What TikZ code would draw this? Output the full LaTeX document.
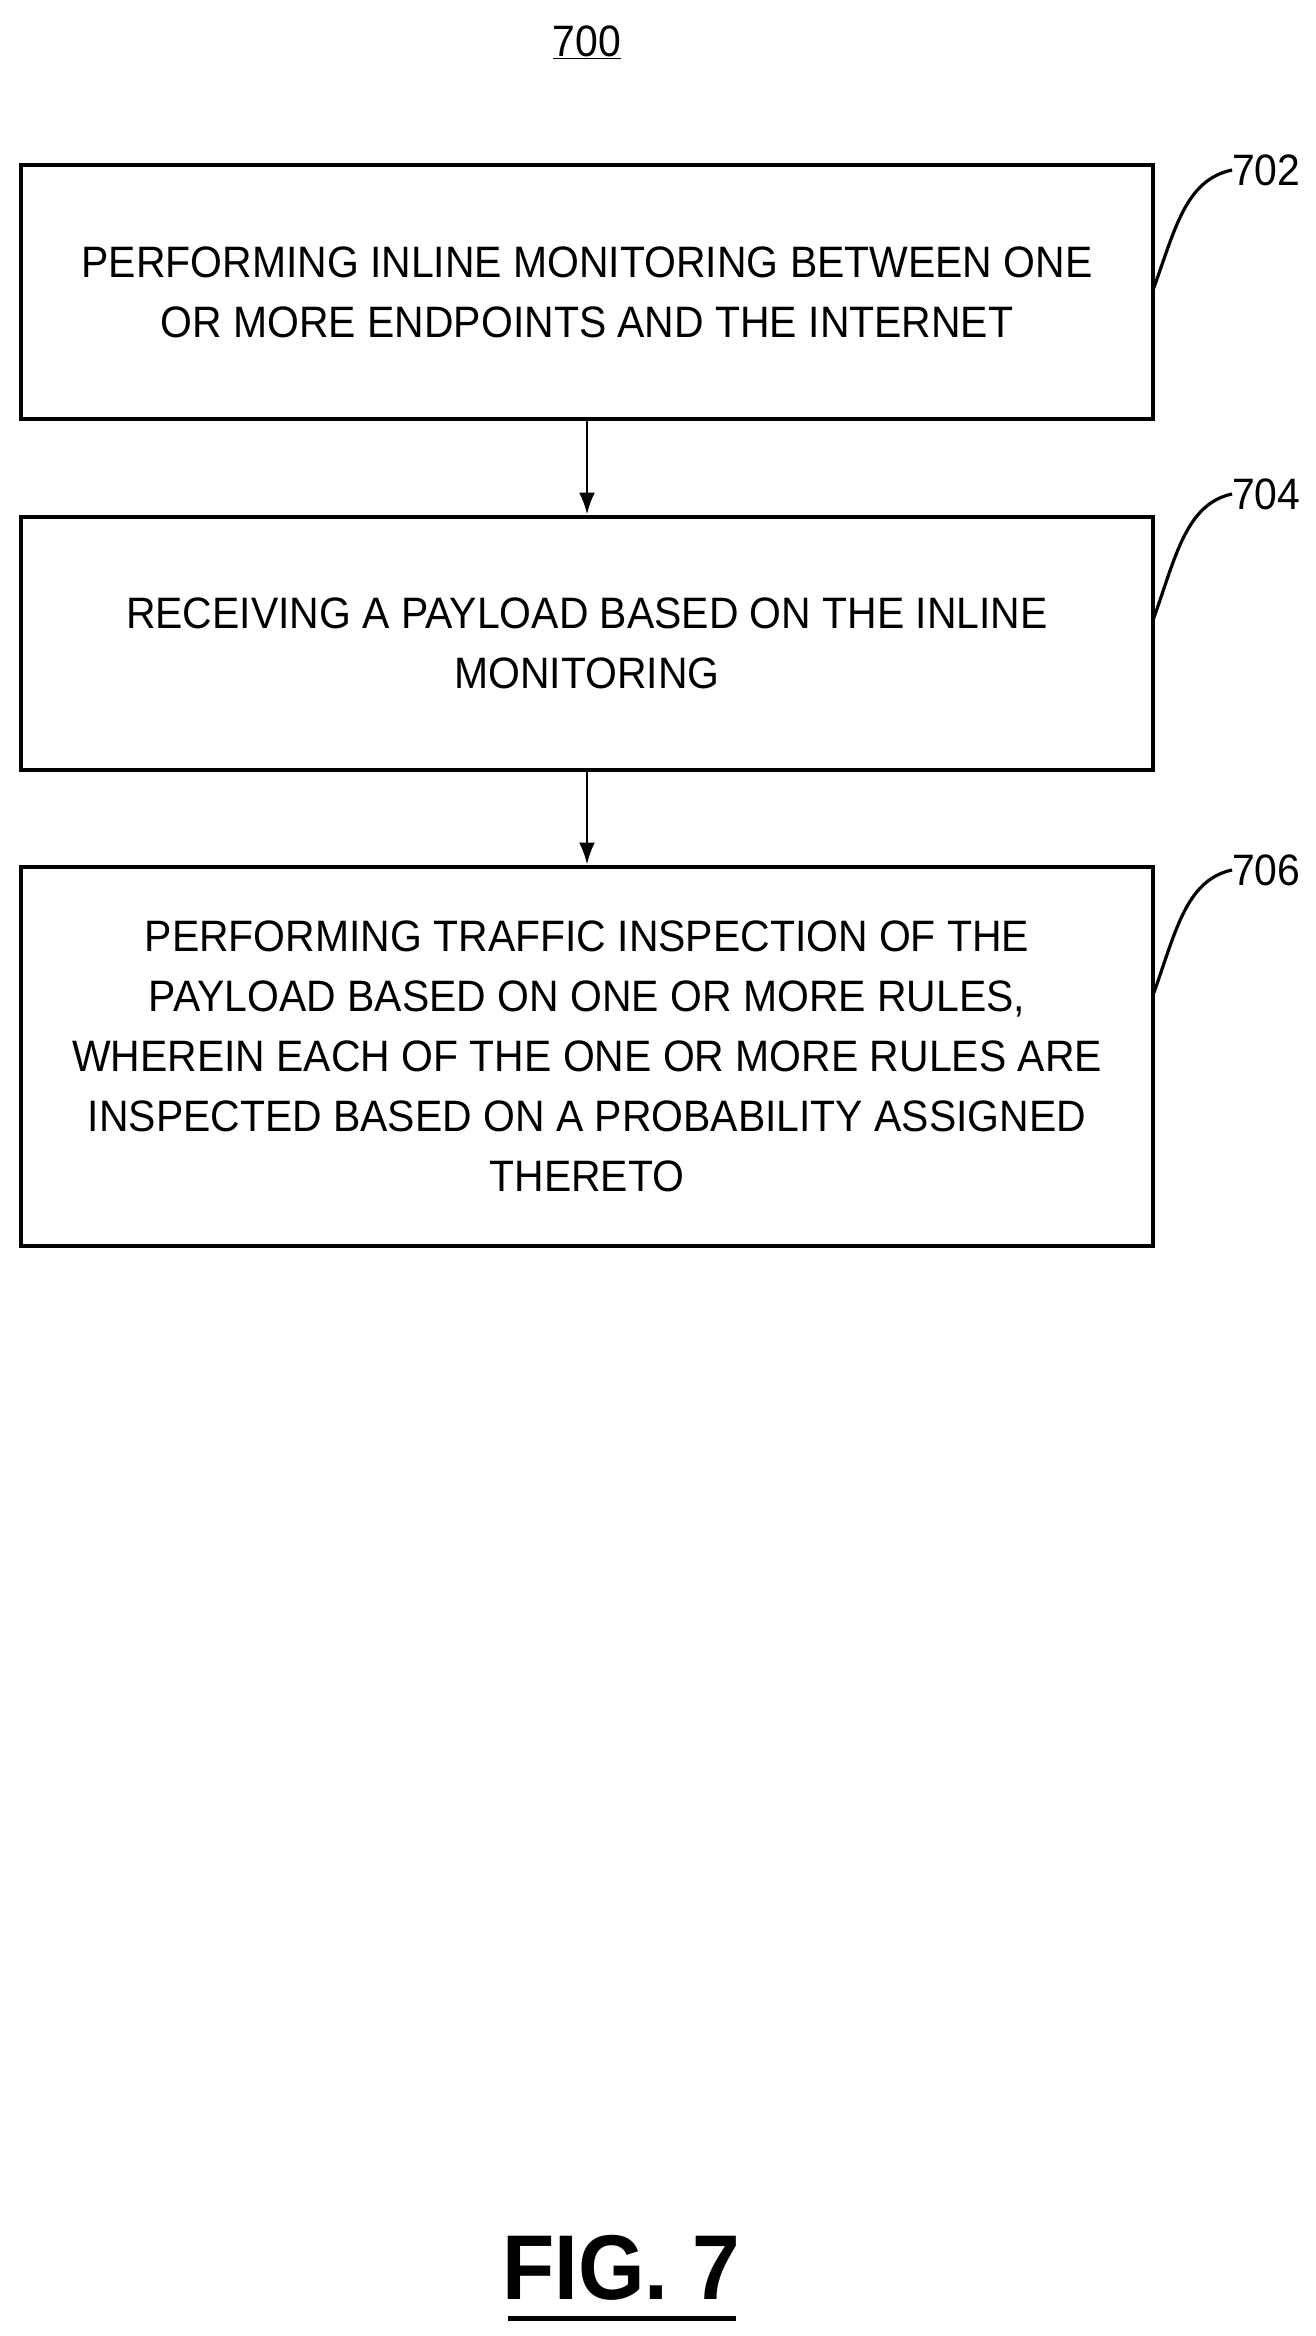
\documentclass[tikz,border=0pt]{standalone}
\usepackage{fontspec}
\setmainfont{Liberation Sans}[FakeStretch=0.93]
\usetikzlibrary{arrows.meta}
\begin{document}
\begin{tikzpicture}[x=1pt,y=-1pt,
  box/.style={draw,line width=4pt,minimum width=1132pt,align=center,font=\fontsize{44}{60}\selectfont,inner sep=0pt},
  lbl/.style={font=\fontsize{44}{50}\selectfont,anchor=west,inner sep=0pt},
  arr/.style={line width=2.6pt,-{Latex[length=22pt,width=16pt]}},
  lead/.style={line width=3.2pt}]
\useasboundingbox (0,0) rectangle (1316,2336);
\node[font=\fontsize{44}{50}\selectfont] (t) at (587,42) {\underline{700}};
\node[box,minimum height=253pt] (b1) at (587,292) {PERFORMING INLINE MONITORING BETWEEN ONE\\OR MORE ENDPOINTS AND THE INTERNET};
\node[box,minimum height=253pt] (b2) at (587,643) {RECEIVING A PAYLOAD BASED ON THE INLINE\\MONITORING};
\node[box,minimum height=379pt] (b3) at (587,1056) {PERFORMING TRAFFIC INSPECTION OF THE\\PAYLOAD BASED ON ONE OR MORE RULES,\\WHEREIN EACH OF THE ONE OR MORE RULES ARE\\INSPECTED BASED ON A PROBABILITY ASSIGNED\\THERETO};
\draw[arr] (b1.south) -- (b2.north);
\draw[arr] (b2.south) -- (b3.north);
\node[lbl] (l1) at (1232,170) {702};
\node[lbl] (l2) at (1232,494) {704};
\node[lbl] (l3) at (1232,870) {706};
\coordinate (c1) at (1153,290);
\coordinate (c2) at (1153,620);
\coordinate (c3) at (1153,995);
\draw[lead] (c1) .. controls (1175,230) and (1185,180) .. (l1.west);
\draw[lead] (c2) .. controls (1175,560) and (1185,504) .. (l2.west);
\draw[lead] (c3) .. controls (1175,935) and (1185,880) .. (l3.west);
\node[font=\bfseries\fontsize{92}{100}\selectfont] (f) at (621,2268) {FIG. 7};
\coordinate (u1) at (508,2318);
\coordinate (u2) at (736,2318);
\draw[line width=5pt] (u1) -- (u2);
\end{tikzpicture}
\end{document}
